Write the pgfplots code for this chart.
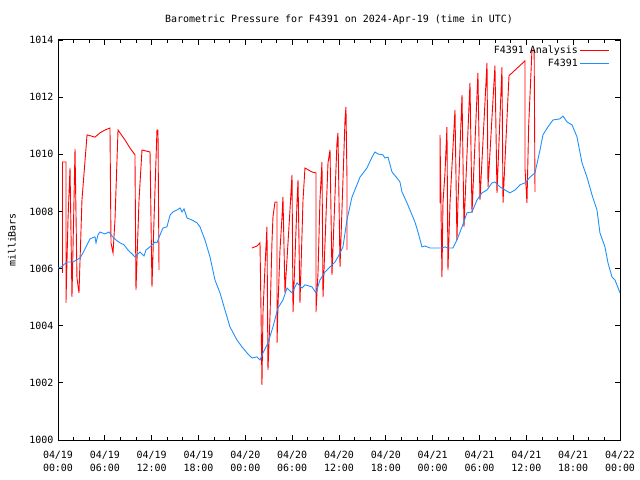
\documentclass[border=0pt]{standalone}
\usepackage{fontspec}
\setmainfont{DejaVu Sans Mono}
\usepackage{pgfplots}
\pgfplotsset{compat=1.18}
\definecolor{obsblue}{RGB}{30,144,255}
\definecolor{anared}{RGB}{255,0,0}
\begin{document}
\fontsize{10}{13}\selectfont
\begin{tikzpicture}
\begin{axis}[
  scale only axis, width=562bp, height=400bp,
  xmin=0, xmax=72, ymin=1000, ymax=1014,
  xtick={0,6,...,72},
  xticklabels={{04/19\\00:00},{04/19\\06:00},{04/19\\12:00},{04/19\\18:00},{04/20\\00:00},{04/20\\06:00},{04/20\\12:00},{04/20\\18:00},{04/21\\00:00},{04/21\\06:00},{04/21\\12:00},{04/21\\18:00},{04/22\\00:00}},
  xticklabel style={align=center, yshift=-8bp},
  minor x tick num=2,
  ytick={1000,1002,...,1014},
  yticklabels={1000,1002,1004,1006,1008,1010,1012,1014},
  yticklabel style={xshift=-1bp},
  tick align=inside,
  major tick length=5bp, minor tick length=3bp,
  axis line style={line width=1bp},
  tick style={black, line width=0.8bp},
  title={Barometric Pressure for F4391 on 2024-Apr-19 (time in UTC)},
  every axis title shift=0pt,
  title style={at={(axis description cs:0.5,1)}, anchor=center, yshift=20bp},
  ylabel={milliBars},
  ylabel style={at={(axis description cs:-0.0819,0.5)}, anchor=center},
  legend style={draw=none, fill=none, at={(axis description cs:0.982,0.99)}, anchor=north east, legend cell align=right, row sep=0pt, inner sep=0pt},
  legend plot pos=right,
  legend image code/.code={\draw[#1] (0bp,0bp) -- (29bp,0bp);},
  unbounded coords=jump,
]
\coordinate (O) at (rel axis cs:0,0);
\addplot[anared, line width=0.9bp] table {
x y
0.58 1005.85
0.58 1009.73
1.02 1009.73
1.02 1004.80
1.28 1007.70
1.54 1009.52
1.79 1005.00
2.05 1008.40
2.18 1010.19
2.43 1005.67
2.69 1005.15
3.07 1008.40
3.72 1010.68
4.74 1010.60
5.38 1010.75
6.02 1010.85
6.66 1010.92
6.79 1006.90
7.05 1006.55
7.30 1007.70
7.69 1010.85
8.58 1010.50
9.22 1010.22
9.86 1009.98
9.99 1005.25
10.38 1008.40
10.76 1010.15
11.79 1010.08
12.04 1005.36
12.30 1007.70
12.68 1010.85
12.81 1010.85
12.94 1005.95
nan nan
24.85 1006.72
25.49 1006.79
25.88 1006.90
26.01 1004.45
26.13 1001.93
26.26 1004.45
26.52 1006.06
26.77 1007.46
26.90 1002.45
27.16 1004.31
27.41 1006.90
27.54 1007.81
27.80 1008.33
28.06 1008.33
28.06 1003.40
28.18 1004.66
28.44 1006.65
28.70 1007.81
28.82 1008.51
29.08 1005.15
29.72 1008.05
29.98 1009.28
30.11 1004.48
30.62 1008.30
30.75 1009.10
31.00 1004.80
31.39 1008.40
31.64 1009.52
32.54 1009.38
33.05 1009.35
33.05 1004.48
33.31 1005.85
33.56 1008.40
33.82 1009.73
33.95 1005.00
34.59 1009.70
34.85 1010.15
35.10 1005.78
35.74 1010.40
35.87 1010.75
36.13 1006.06
36.77 1011.20
36.89 1011.66
37.02 1009.20
37.02 1006.65
nan nan
48.94 1008.30
48.94 1010.68
49.19 1005.70
49.32 1008.30
49.58 1009.35
49.83 1010.95
49.96 1005.95
50.22 1008.30
50.86 1011.55
51.11 1007.00
51.24 1008.30
51.76 1012.08
52.01 1007.46
52.78 1012.50
53.04 1007.95
53.80 1012.85
54.06 1008.40
54.96 1013.20
55.09 1008.86
55.98 1013.10
56.24 1008.65
56.88 1013.05
57.01 1008.30
57.78 1012.75
59.83 1013.27
59.83 1009.50
60.08 1008.30
60.30 1011.00
60.72 1013.65
61.00 1013.65
61.11 1008.68
};
\addlegendentry{F4391 Analysis}
\addplot[obsblue, line width=0.9bp] table {
x y
0.00 1006.02
0.38 1006.05
1.15 1006.23
1.92 1006.23
2.82 1006.37
3.20 1006.55
3.72 1006.83
4.10 1007.04
4.74 1007.11
4.87 1006.90
5.12 1007.18
5.38 1007.28
6.02 1007.21
6.53 1007.28
6.92 1007.14
7.43 1007.00
7.94 1006.90
8.46 1006.83
8.97 1006.65
9.35 1006.55
9.86 1006.41
10.25 1006.51
10.50 1006.58
11.02 1006.44
11.27 1006.65
11.79 1006.76
12.43 1006.93
12.68 1006.90
13.07 1007.18
13.45 1007.42
13.96 1007.46
14.35 1007.87
14.73 1007.98
15.24 1008.05
15.63 1008.12
15.89 1007.98
16.14 1008.09
16.53 1007.77
17.17 1007.70
17.81 1007.60
18.19 1007.46
18.83 1007.00
19.47 1006.41
20.11 1005.60
20.75 1005.15
21.39 1004.55
22.03 1003.96
22.93 1003.50
23.57 1003.26
24.21 1003.05
24.85 1002.87
25.49 1002.91
25.88 1002.80
26.26 1003.05
26.90 1003.40
27.54 1003.96
28.18 1004.62
28.82 1004.90
29.34 1005.32
29.98 1005.15
30.62 1005.50
31.26 1005.32
31.64 1005.43
32.54 1005.36
33.05 1005.15
33.56 1005.60
34.20 1005.88
34.85 1006.06
35.49 1006.23
35.87 1006.41
36.51 1006.76
37.02 1007.70
37.66 1008.50
38.30 1008.93
38.69 1009.20
39.58 1009.52
40.23 1009.90
40.61 1010.08
40.99 1010.01
41.63 1009.98
41.89 1009.87
42.28 1009.90
42.79 1009.38
43.43 1009.17
43.81 1009.03
44.07 1008.68
44.71 1008.30
45.09 1008.05
45.73 1007.63
46.12 1007.28
46.63 1006.76
47.02 1006.79
47.66 1006.72
48.55 1006.72
49.19 1006.72
49.58 1006.76
49.96 1006.72
50.60 1006.72
51.11 1007.00
51.76 1007.46
52.40 1007.95
53.04 1007.98
53.68 1008.40
54.32 1008.65
54.96 1008.75
55.60 1009.00
55.98 1009.03
56.62 1008.86
57.26 1008.75
57.90 1008.65
58.55 1008.75
59.19 1008.93
59.83 1009.00
60.47 1009.20
61.11 1009.35
61.75 1010.15
62.13 1010.68
62.77 1010.96
63.41 1011.20
64.31 1011.24
64.69 1011.34
65.21 1011.13
65.85 1011.03
66.49 1010.61
67.13 1009.70
67.77 1009.20
68.41 1008.58
69.05 1008.05
69.43 1007.25
70.07 1006.76
70.46 1006.20
70.97 1005.71
71.36 1005.60
72.00 1005.15
};
\addlegendentry{F4391}
\end{axis}
\pgfresetboundingbox
\useasboundingbox (O) ++(-58bp,-40bp) rectangle ++(640bp,480bp);
\end{tikzpicture}
\end{document}
